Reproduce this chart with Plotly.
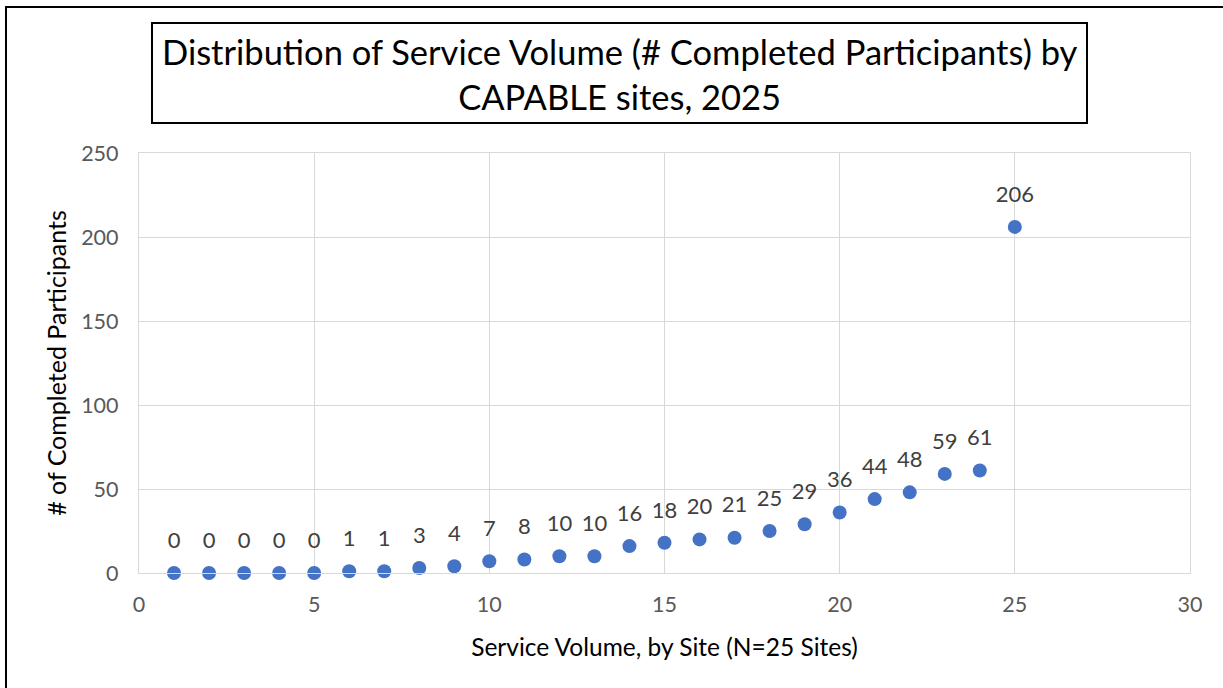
import plotly.graph_objects as go

site_index = list(range(1, 26))
completed = [0, 0, 0, 0, 0, 1, 1, 3, 4, 7, 8, 10, 10, 16, 18, 20, 21, 25, 29, 36, 44, 48, 59, 61, 206]
x_ticks = [0, 5, 10, 15, 20, 25, 30]
y_ticks = [0, 50, 100, 150, 200, 250]
title_lines = ["Distribution of Service Volume (# Completed Participants) by", "CAPABLE sites, 2025"]

FONT = "Lato, Calibri, sans-serif"
W, H = 1223, 688
L, R, T, B = 139, 33, 153, 115
pw, ph = W - L - R, H - T - B

def px(x):
    return (x - L) / pw

def py(y):
    return (H - B - y) / ph

fig = go.Figure()
# data labels (invisible larger marker sets the label gap)
fig.add_trace(go.Scatter(
    x=site_index, y=completed, mode="markers+text",
    text=[str(v) for v in completed], textposition="top center",
    textfont=dict(family=FONT, size=22, color="#404040"),
    marker=dict(color="rgba(0,0,0,0)", size=30, line=dict(width=0)),
    cliponaxis=False, hoverinfo="skip",
))
fig.add_trace(go.Scatter(
    x=site_index, y=completed, mode="markers",
    marker=dict(color="#4472C4", size=14, line=dict(width=0)),
    cliponaxis=False, hoverinfo="x+y",
))

fig.update_layout(
    width=W, height=H, margin=dict(l=L, r=R, t=T, b=B),
    paper_bgcolor="white", plot_bgcolor="white", showlegend=False,
    font=dict(family=FONT),
    xaxis=dict(range=[0, 30], tickvals=x_ticks, showgrid=True, gridcolor="#D9D9D9", gridwidth=1.3,
               zeroline=False, showline=True, linecolor="#D9D9D9", linewidth=1.3, mirror=True,
               ticks="", ticklabelstandoff=12, tickfont=dict(size=21.5, color="#595959", family=FONT),
               title=dict(text="Service Volume, by Site (N=25 Sites)", font=dict(size=24.5, color="#000000", family=FONT), standoff=22)),
    yaxis=dict(range=[0, 250], tickvals=y_ticks, showgrid=True, gridcolor="#D9D9D9", gridwidth=1.3,
               zeroline=False, showline=True, linecolor="#D9D9D9", linewidth=1.3, mirror=True,
               ticks="", ticklabelstandoff=15, tickfont=dict(size=21.5, color="#595959", family=FONT),
               title=dict(text="# of Completed Participants", font=dict(size=25, color="#000000", family=FONT), standoff=7)),
)

# outer chart frame
fig.add_shape(type="rect", xref="paper", yref="paper", x0=px(6), x1=px(1240), y0=py(705), y1=py(7),
              line=dict(color="#000000", width=2), layer="above")
# title box
fig.add_shape(type="rect", xref="paper", yref="paper", x0=px(152), x1=px(1087), y0=py(123), y1=py(23),
              line=dict(color="#000000", width=2), fillcolor="rgba(0,0,0,0)", layer="above")
fig.add_annotation(xref="paper", yref="paper", x=px(620), y=py(74), text="<br>".join(title_lines),
                   showarrow=False, xanchor="center", yanchor="middle",
                   font=dict(family=FONT, size=34.5, color="#000000"))

fig.write_html("out.html")
